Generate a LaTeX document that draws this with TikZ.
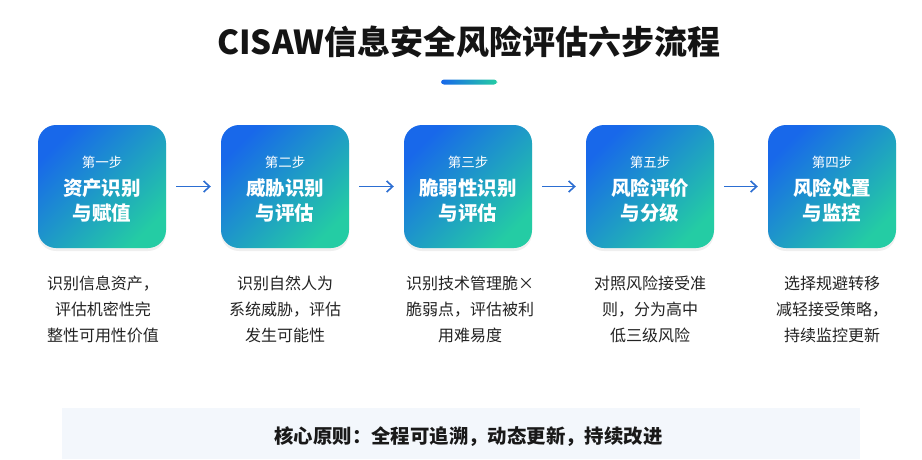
\documentclass[tikz,border=0pt]{standalone}
\usepackage{fontspec}
\setmainfont{Noto Sans CJK SC}
\usetikzlibrary{arrows.meta,shadows}
\definecolor{gblue}{RGB}{24,104,234}
\definecolor{gteal}{RGB}{36,204,164}
\definecolor{arrowblue}{RGB}{44,110,210}
\definecolor{desctext}{RGB}{35,35,35}
\definecolor{bandfill}{RGB}{243,247,252}
\tikzset{
  stepbox/.style={draw=none, rounded corners=18pt, minimum width=128pt, minimum height=123pt,
    inner sep=0pt, top color=gblue, bottom color=gteal, shading angle=45,
    drop shadow={opacity=0.12, shadow xshift=0pt, shadow yshift=-3pt}},
  steplabel/.style={text=white, font=\fontsize{13.5}{16}\selectfont, inner sep=0pt},
  steptitle/.style={text=white, font=\bfseries\fontsize{19.5}{26}\selectfont, align=center, inner sep=0pt},
  desc/.style={text=desctext, font=\fontsize{16}{26}\selectfont, align=center, inner sep=0pt},
  arr/.style={draw=arrowblue, line width=1.6pt, -{Straight Barb[length=6pt,width=11pt]}, shorten >=10pt, shorten <=10pt}
}
\begin{document}
\begin{tikzpicture}[x=1pt,y=-1pt]
\useasboundingbox (0,0) rectangle (922,459);
\fill[white] (0,0) rectangle (922,459);
% footer band
\fill[bandfill] (62,408) rectangle (860,459);
% title
\node[font=\bfseries\fontsize{33}{38}\selectfont, text=black!92, inner sep=0pt] (title) at (469,42) {CISAW信息安全风险评估六步流程};
\node[rounded corners=3pt, minimum width=56pt, minimum height=5pt, inner sep=0pt, left color=gblue, right color=gteal] (bar) at (469,82) {};
% boxes
\foreach \i/\x/\lab/\la/\lb in {1/102/第一步/资产识别/与赋值, 2/285/第二步/威胁识别/与评估, 3/468/第三步/脆弱性识别/与评估, 4/650/第五步/风险评价/与分级, 5/832/第四步/风险处置/与监控}{
  \node[stepbox] (box\i) at (\x,186.5) {};
  \node[steplabel] (lab\i) at (\x,162) {\lab};
  \node[steptitle] (tia\i) at (\x,188) {\la};
  \node[steptitle] (tib\i) at (\x,213) {\lb};
}
\foreach \a/\b in {1/2,2/3,3/4,4/5}{
  \draw[arr] (box\a) -- (box\b);
}
% descriptions
\node[desc] (desc1) at (103,309) {识别信息资产，\\评估机密性完\\整性可用性价值};
\node[desc] (desc2) at (285,309) {识别自然人为\\系统威胁，评估\\发生可能性};
\node[desc] (desc3) at (470,309) {识别技术管理脆×\\脆弱点，评估被利\\用难易度};
\node[desc] (desc4) at (650,309) {对照风险接受准\\则，分为高中\\低三级风险};
\node[desc] (desc5) at (832,309) {选择规避转移\\减轻接受策略，\\持续监控更新};
% footer
\node[font=\bfseries\fontsize{19.4}{22}\selectfont, text=black!90, inner sep=0pt] (footer) at (468.5,437) {核心原则：全程可追溯，动态更新，持续改进};
\end{tikzpicture}
\end{document}
